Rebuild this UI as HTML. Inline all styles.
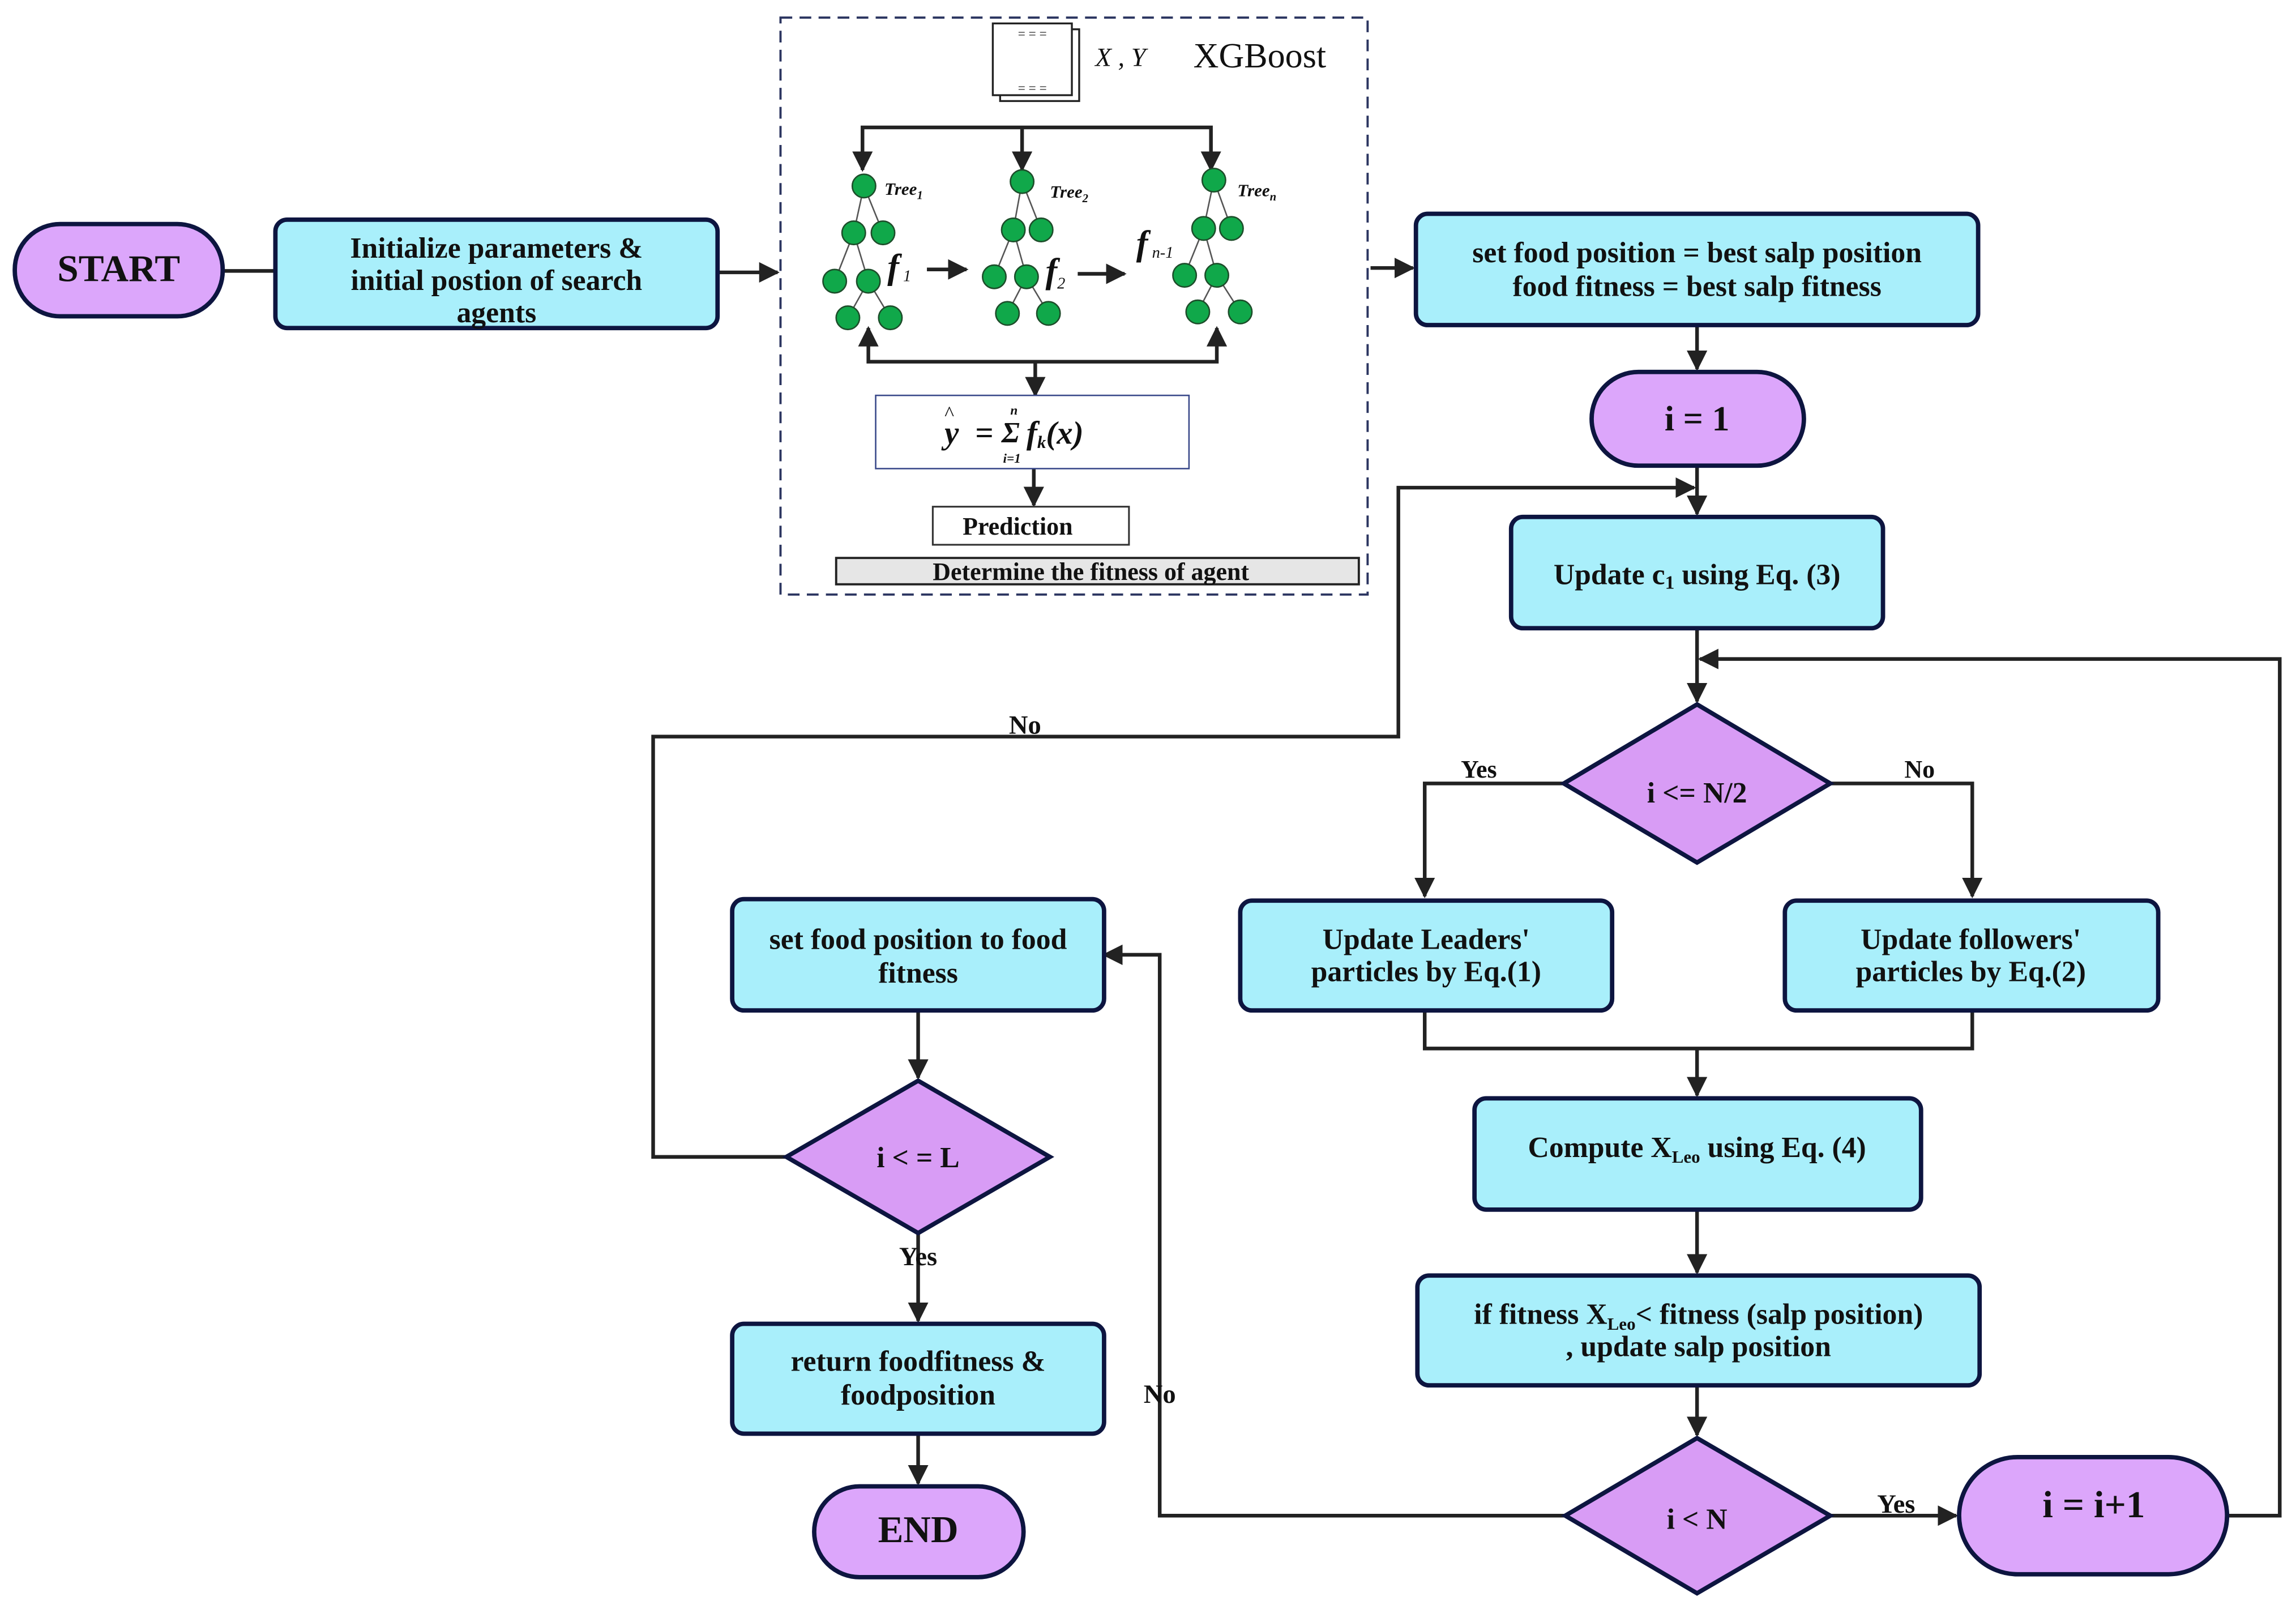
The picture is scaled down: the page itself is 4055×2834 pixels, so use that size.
<!DOCTYPE html>
<html><head><meta charset="utf-8"><style>
html,body{margin:0;padding:0;background:#fff}
svg{display:block}
text{font-family:"Liberation Serif",serif;font-weight:bold;fill:#111}
</style></head><body>
<svg width="4055" height="2834" viewBox="0 0 1568 1096" xmlns="http://www.w3.org/2000/svg">
<defs>
<marker id="b" viewBox="0 0 10 10" refX="9" refY="5" markerWidth="14" markerHeight="14" orient="auto-start-reverse" markerUnits="userSpaceOnUse"><path d="M0,0L10,5L0,10z" fill="#222"/></marker>
</defs>
<g stroke="#222" stroke-width="2.5" fill="none">
<line x1="152" y1="185" x2="188" y2="185"/>
<line x1="490" y1="186" x2="531" y2="186" marker-end="url(#b)"/>
<line x1="936" y1="183" x2="965" y2="183" marker-end="url(#b)"/>
<line x1="1159" y1="222" x2="1159" y2="252" marker-end="url(#b)"/>
<line x1="1159" y1="318" x2="1159" y2="351" marker-end="url(#b)"/>
<line x1="1159" y1="429" x2="1159" y2="479" marker-end="url(#b)"/>
<polyline points="1068,535 973,535 973,612" marker-end="url(#b)"/>
<polyline points="1250,535 1347,535 1347,612" marker-end="url(#b)"/>
<polyline points="973,690 973,716 1347,716 1347,690"/>
<line x1="1159" y1="716" x2="1159" y2="748" marker-end="url(#b)"/>
<line x1="1159" y1="826" x2="1159" y2="869" marker-end="url(#b)"/>
<line x1="1159" y1="946" x2="1159" y2="980" marker-end="url(#b)"/>
<line x1="1250" y1="1035" x2="1336" y2="1035" marker-end="url(#b)"/>
<polyline points="1521,1035 1557,1035 1557,450 1161,450" marker-end="url(#b)"/>
<polyline points="1069,1035 792,1035 792,652 754,652" marker-end="url(#b)"/>
<line x1="627" y1="690" x2="627" y2="736" marker-end="url(#b)"/>
<polyline points="537,790 446,790 446,503 955,503 955,333 1157,333" marker-end="url(#b)"/>
<line x1="627" y1="842" x2="627" y2="902" marker-end="url(#b)"/>
<line x1="627" y1="979" x2="627" y2="1013" marker-end="url(#b)"/>
</g>
<g stroke="#0d1540" stroke-width="3">
<rect x="10" y="153" width="142" height="63" rx="31" fill="#dca6fb"/>
<rect x="188" y="150" width="302" height="74" rx="8" fill="#a9effb"/>
<rect x="967" y="146" width="384" height="76" rx="8" fill="#a9effb"/>
<rect x="1087" y="254" width="145" height="64" rx="32" fill="#dca6fb"/>
<rect x="1032" y="353" width="254" height="76" rx="8" fill="#a9effb"/>
<polygon points="1159,481 1250,535 1159,589 1068,535" fill="#d89cf5"/>
<rect x="847" y="615" width="254" height="75" rx="8" fill="#a9effb"/>
<rect x="1219" y="615" width="255" height="75" rx="8" fill="#a9effb"/>
<rect x="1007" y="750" width="305" height="76" rx="8" fill="#a9effb"/>
<rect x="968" y="871" width="384" height="75" rx="8" fill="#a9effb"/>
<polygon points="1159,982 1250,1035 1159,1088 1069,1035" fill="#d89cf5"/>
<rect x="1338" y="995" width="183" height="80" rx="40" fill="#dca6fb"/>
<rect x="500" y="614" width="254" height="76" rx="8" fill="#a9effb"/>
<polygon points="627,738 717,790 627,842 537,790" fill="#d89cf5"/>
<rect x="500" y="904" width="254" height="75" rx="8" fill="#a9effb"/>
<rect x="556" y="1015" width="143" height="62" rx="31" fill="#dca6fb"/>
</g>
<g text-anchor="middle" font-size="20">
<text x="81" y="192" font-size="26">START</text>
<text x="339" y="176">Initialize parameters &amp;</text>
<text x="339" y="198">initial postion of search</text>
<text x="339" y="220">agents</text>
<text x="1159" y="179">set food position = best salp position</text>
<text x="1159" y="202">food fitness = best salp fitness</text>
<text x="1159" y="294" font-size="24">i = 1</text>
<text x="1159" y="399">Update c<tspan font-size="13" dy="3">1</tspan><tspan dy="-3"> using  Eq. (3)</tspan></text>
<text x="1159" y="548">i &lt;= N/2</text>
<text x="1010" y="531" font-size="17">Yes</text>
<text x="1311" y="531" font-size="17">No</text>
<text x="974" y="648">Update Leaders'</text>
<text x="974" y="670">particles by Eq.(1)</text>
<text x="1346" y="648">Update followers'</text>
<text x="1346" y="670">particles by Eq.(2)</text>
<text x="1159" y="790">Compute X<tspan font-size="12" dy="4">Leo</tspan><tspan dy="-4"> using Eq. (4)</tspan></text>
<text x="1160" y="904">if fitness X<tspan font-size="12" dy="4">Leo</tspan><tspan dy="-4">&lt; fitness (salp position)</tspan></text>
<text x="1160" y="926">, update salp position</text>
<text x="1159" y="1044">i &lt; N</text>
<text x="1295" y="1033" font-size="18">Yes</text>
<text x="1430" y="1036" font-size="26">i = i+1</text>
<text x="792" y="958" font-size="18">No</text>
<text x="700" y="501" font-size="18">No</text>
<text x="627" y="648">set food position to food</text>
<text x="627" y="671">fitness</text>
<text x="627" y="797">i &lt; = L</text>
<text x="627" y="864" font-size="18">Yes</text>
<text x="627" y="936">return foodfitness &amp;</text>
<text x="627" y="959">foodposition</text>
<text x="627" y="1053" font-size="26">END</text>
</g>
<rect x="533" y="12" width="401" height="394" fill="none" stroke="#2b3560" stroke-width="1.5" stroke-dasharray="8,5"/>
<rect x="683" y="20" width="54" height="49" fill="#fff" stroke="#222" stroke-width="1.3"/>
<rect x="678" y="16" width="54" height="49" fill="#fff" stroke="#222" stroke-width="1.3"/>
<text x="705" y="26" font-size="9" text-anchor="middle" style="font-weight:normal">= = =</text>
<text x="705" y="63" font-size="9" text-anchor="middle" style="font-weight:normal">= = =</text>
<text x="748" y="45" font-size="18" style="font-style:italic;font-weight:normal">X , Y</text>
<text x="815" y="46" font-size="24" style="font-weight:normal">XGBoost</text>
<g stroke="#222" stroke-width="2.5" fill="none">
<polyline points="589,116 589,87 827,87 827,116" marker-start="url(#b)" marker-end="url(#b)"/>
<line x1="698" y1="87" x2="698" y2="116" marker-end="url(#b)"/>
<polyline points="593,224 593,247 831,247 831,224" marker-start="url(#b)" marker-end="url(#b)"/>
<line x1="707" y1="247" x2="707" y2="270" marker-end="url(#b)"/>
<line x1="706" y1="320" x2="706" y2="345" marker-end="url(#b)"/>
<line x1="633" y1="184" x2="660" y2="184" marker-end="url(#b)"/>
<line x1="736" y1="187" x2="768" y2="187" marker-end="url(#b)"/>
</g>
<g stroke="#555" stroke-width="1">
<path d="M590,127L583,159M590,127L603,159M583,159L570,192M583,159L593,192M593,192L579,217M593,192L608,217"/>
<path d="M698,124L692,157M698,124L711,157M692,157L679,189M692,157L701,189M701,189L688,214M701,189L716,214"/>
<path d="M829,123L822,156M829,123L841,156M822,156L809,188M822,156L831,188M831,188L818,213M831,188L847,213"/>
</g>
<g fill="#10a84a" stroke="#1d4d2a" stroke-width="1">
<circle cx="590" cy="127" r="8"/><circle cx="583" cy="159" r="8"/><circle cx="603" cy="159" r="8"/><circle cx="570" cy="192" r="8"/><circle cx="593" cy="192" r="8"/><circle cx="579" cy="217" r="8"/><circle cx="608" cy="217" r="8"/>
<circle cx="698" cy="124" r="8"/><circle cx="692" cy="157" r="8"/><circle cx="711" cy="157" r="8"/><circle cx="679" cy="189" r="8"/><circle cx="701" cy="189" r="8"/><circle cx="688" cy="214" r="8"/><circle cx="716" cy="214" r="8"/>
<circle cx="829" cy="123" r="8"/><circle cx="822" cy="156" r="8"/><circle cx="841" cy="156" r="8"/><circle cx="809" cy="188" r="8"/><circle cx="831" cy="188" r="8"/><circle cx="818" cy="213" r="8"/><circle cx="847" cy="213" r="8"/>
</g>
<g style="font-style:italic" font-size="12">
<text x="604" y="133">Tree<tspan font-size="8" dy="3">1</tspan></text>
<text x="717" y="135">Tree<tspan font-size="8" dy="3">2</tspan></text>
<text x="845" y="134">Tree<tspan font-size="8" dy="3">n</tspan></text>
</g>
<g style="font-style:italic">
<text x="606" y="190" font-size="24">f<tspan font-size="11" dy="2" style="font-weight:normal"> 1</tspan></text>
<text x="714" y="193" font-size="24">f<tspan font-size="11" dy="4" style="font-weight:normal">2</tspan></text>
<text x="776" y="174" font-size="24">f<tspan font-size="11" dy="2" style="font-weight:normal"> n-1</tspan></text>
</g>
<rect x="598" y="270" width="214" height="50" fill="#fff" stroke="#3a4a8a" stroke-width="1"/>
<text x="645" y="303" font-size="22" style="font-style:italic">y</text>
<text x="645" y="287" font-size="14" style="font-weight:normal">^</text>
<text x="666" y="303" font-size="22">=</text>
<text x="684" y="302" font-size="20" style="font-style:italic">Σ</text>
<text x="690" y="283" font-size="9" style="font-style:italic">n</text>
<text x="685" y="316" font-size="9" style="font-style:italic">i=1</text>
<text x="701" y="303" font-size="22" style="font-style:italic">f<tspan font-size="12" dy="3">k</tspan><tspan dy="-3">(x)</tspan></text>
<rect x="637" y="346" width="134" height="26" fill="#fff" stroke="#333" stroke-width="1.2"/>
<text x="695" y="365" font-size="17" text-anchor="middle">Prediction</text>
<rect x="571" y="381" width="357" height="18" fill="#e6e6e6" stroke="#222" stroke-width="1.5"/>
<text x="745" y="396" font-size="17" text-anchor="middle">Determine the  fitness of agent</text>
</svg>
</body></html>
